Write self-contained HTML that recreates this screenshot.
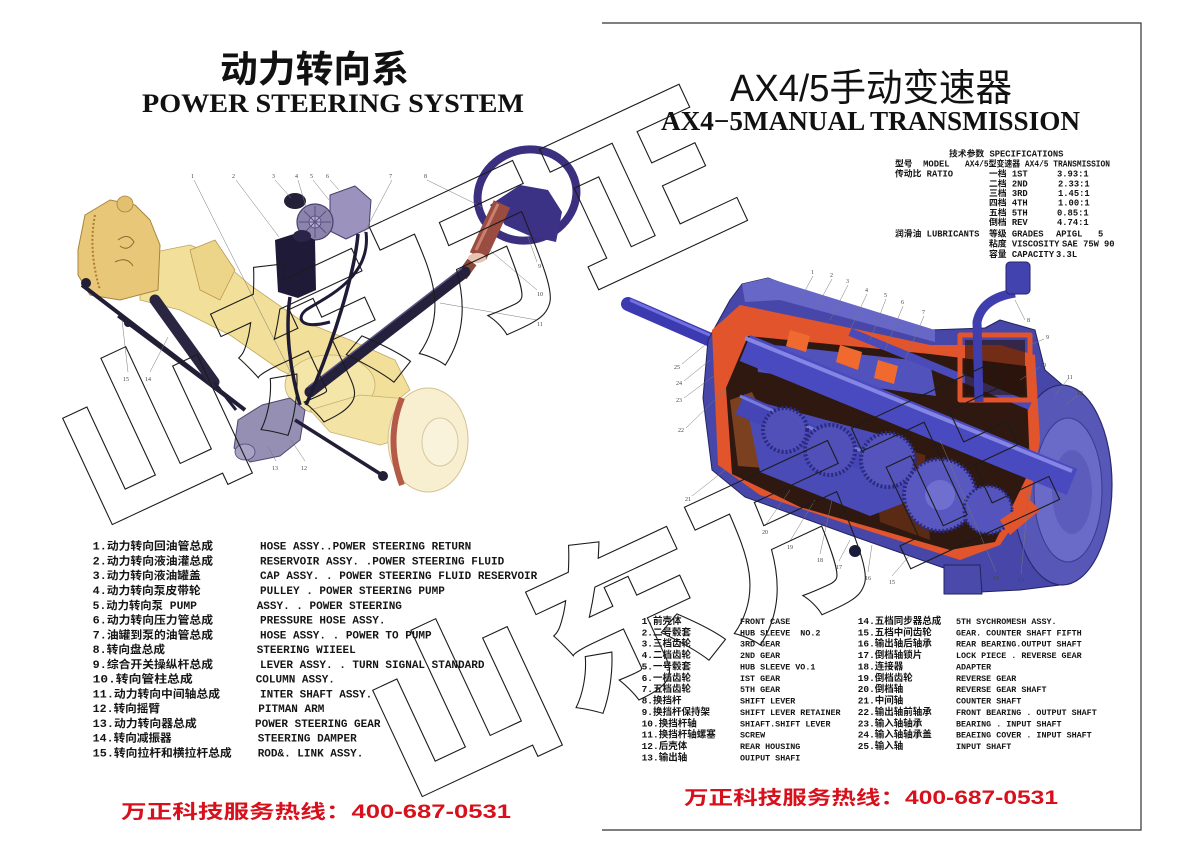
<!DOCTYPE html>
<html><head><meta charset="utf-8"><style>
html,body{margin:0;padding:0;background:#fff;width:1200px;height:856px;overflow:hidden}
svg text{white-space:pre}
.lg{font-family:"Liberation Mono","Noto Sans CJK SC",monospace;font-weight:bold;font-size:11px;fill:#151515}
.rc{font-family:"Liberation Mono","Noto Sans CJK SC",monospace;font-weight:bold;font-size:9.5px;fill:#151515}
.re{font-family:"Liberation Mono","Noto Sans CJK SC",monospace;font-weight:bold;font-size:8.4px;fill:#151515}
.sp{font-family:"Liberation Mono","Noto Sans CJK SC",monospace;font-weight:bold;font-size:8.8px;fill:#151515}
.nm{font-family:"Liberation Serif",serif;font-size:6px;fill:#444}
.wm{font-family:"Noto Sans CJK SC",sans-serif;font-weight:900;font-size:178px;fill:none;stroke:#1c1c1c;stroke-width:1.1}
.hl{font-family:"Liberation Sans","Noto Sans CJK SC",sans-serif;font-weight:bold;font-size:19px;fill:#d7101c}
</style></head><body>
<svg width="1200" height="856" viewBox="0 0 1200 856" xmlns="http://www.w3.org/2000/svg">
<rect width="1200" height="856" fill="#fff"/>
<!-- right panel border -->
<polyline points="602,23 1141,23 1141,830 602,830" fill="none" stroke="#333" stroke-width="1.2"/>

<!-- titles -->
<text x="220" y="82" font-family="'Noto Sans CJK SC',sans-serif" font-weight="bold" font-size="37" textLength="189" lengthAdjust="spacingAndGlyphs" fill="#111">动力转向系</text>
<text x="142" y="112" font-family="'Liberation Serif',serif" font-weight="bold" font-size="26" textLength="382" lengthAdjust="spacingAndGlyphs" fill="#111">POWER STEERING SYSTEM</text>
<text x="730" y="101" font-family="'Liberation Sans','Noto Sans CJK SC',sans-serif" font-size="38" textLength="282" lengthAdjust="spacingAndGlyphs" fill="#111">AX4/5手动变速器</text>
<text x="661" y="130" font-family="'Liberation Serif',serif" font-weight="bold" font-size="27" textLength="419" lengthAdjust="spacingAndGlyphs" fill="#111">AX4−5MANUAL TRANSMISSION</text>

<!-- ===== LEFT IMAGE: power steering ===== -->
<g stroke-linejoin="round">
<polygon points="140,255 190,245 215,255 250,285 300,320 350,340 395,360 410,390 385,410 330,395 280,370 230,335 180,310 140,300" fill="#f2e09a" stroke="#c2a660" stroke-width="0.8"/>
<ellipse cx="330" cy="385" rx="45" ry="30" fill="#f4e6a8" stroke="#c8b070" stroke-width="0.8"/>
<polygon points="310,410 360,395 420,400 430,430 380,445 330,432" fill="#f3e3a5" stroke="#c8b070" stroke-width="0.8"/>
<polygon points="190,250 215,240 235,270 220,300 200,290" fill="#ecd488" stroke="#b89a50" stroke-width="0.8"/>
<polygon points="78,250 85,215 110,200 135,205 150,220 160,245 158,290 120,300 90,295 78,275" fill="#e8c878" stroke="#a8843a" stroke-width="1"/>
<circle cx="125" cy="204" r="8" fill="#e2c070" stroke="#a8843a" stroke-width="0.8"/>
<path d="M95,215 Q88,250 100,290" fill="none" stroke="#b07a30" stroke-width="2" stroke-dasharray="2 2"/>
<path d="M118,240 q10,-8 16,2 q-6,10 -14,4 M115,262 q12,-6 18,4" fill="none" stroke="#8a6a30" stroke-width="1"/>
<ellipse cx="428" cy="440" rx="40" ry="52" fill="#f7efd0" stroke="#d4c290" stroke-width="1"/>
<path d="M402,398 Q385,440 402,485" fill="none" stroke="#b65a48" stroke-width="6"/>
<ellipse cx="440" cy="442" rx="18" ry="24" fill="#f9f3dc" stroke="#d8c8a0" stroke-width="1"/>
<ellipse cx="527" cy="195" rx="50" ry="45" transform="rotate(-20 527 195)" fill="none" stroke="#3b2f80" stroke-width="8"/>
<polygon points="490,205 520,185 548,190 562,212 556,242 530,236 505,225" fill="#3c3285"/>
<line x1="502" y1="204" x2="478" y2="256" stroke="#9a4c40" stroke-width="18"/>
<line x1="498" y1="204" x2="476" y2="250" stroke="#c98070" stroke-width="3"/>
<ellipse cx="477" cy="258" rx="9" ry="5" fill="#e8c4b4"/>
<line x1="472" y1="262" x2="462" y2="276" stroke="#8a4a3a" stroke-width="11"/>
<line x1="465" y1="272" x2="310" y2="392" stroke="#25203c" stroke-width="11" stroke-linecap="round"/>
<line x1="462" y1="268" x2="308" y2="387" stroke="#5a5580" stroke-width="1.5"/>
<polygon points="330,195 355,186 371,200 369,228 346,239 330,231" fill="#9b92bd" stroke="#4a4070" stroke-width="1"/>
<circle cx="315" cy="222" r="18" fill="#8d84ad" stroke="#4a4070" stroke-width="1.2"/>
<circle cx="315" cy="222" r="6" fill="#b4acd0" stroke="#4a4070" stroke-width="0.8"/>
<path d="M315,206 L315,238 M299,222 L331,222 M304,211 L326,233 M326,211 L304,233" stroke="#5a5080" stroke-width="1"/>
<ellipse cx="295" cy="201" rx="11" ry="8" fill="#25203a"/>
<polygon points="275,240 300,232 315,240 316,290 298,298 278,292" fill="#1f1a38"/>
<ellipse cx="302" cy="236" rx="9" ry="6" fill="#2a2448"/>
<path d="M290,297 C285,330 290,370 300,405" fill="none" stroke="#1f1a36" stroke-width="3.5"/>
<path d="M358,234 C355,270 335,340 306,405" fill="none" stroke="#1f1a36" stroke-width="3.5"/>
<path d="M366,232 C372,280 320,300 306,310 C296,318 300,330 330,322" fill="none" stroke="#1f1a36" stroke-width="3"/>
<polygon points="238,420 262,405 290,398 305,410 300,440 280,456 250,462 234,448" fill="#948fb3" stroke="#4c4870" stroke-width="1"/>
<ellipse cx="245" cy="452" rx="10" ry="8" fill="#a8a3c4" stroke="#4c4870" stroke-width="0.8"/>
<line x1="82" y1="285" x2="245" y2="410" stroke="#221e36" stroke-width="4"/>
<line x1="118" y1="316" x2="225" y2="396" stroke="#221e36" stroke-width="3"/>
<line x1="155" y1="300" x2="214" y2="382" stroke="#2a2540" stroke-width="11" stroke-linecap="round"/>
<line x1="214" y1="382" x2="236" y2="410" stroke="#221e36" stroke-width="3"/>
<line x1="295" y1="420" x2="382" y2="475" stroke="#221e36" stroke-width="3.5"/>
<circle cx="86" cy="283" r="5" fill="#221e36"/>
<circle cx="383" cy="476" r="5" fill="#221e36"/>
<circle cx="128" cy="323" r="4" fill="#221e36"/>
</g>
<g stroke="#777" stroke-width="0.5" fill="none">
<path d="M194,180 L291,373 M236,180 L279,237 M275,180 L291,198 M298,180 L306,207 M313,180 L329,200 M330,180 L339,190 M392,180 L364,233 M427,180 L482,207 M537,262 L528,237 M537,290 L486,247 M537,320 L440,303 M150,372 L168,337 M128,372 L122,320 M276,461 L268,447 M305,461 L291,440"/>
</g>
<g class="nm">
<text x="191" y="178">1</text><text x="232" y="178">2</text><text x="272" y="178">3</text><text x="295" y="178">4</text><text x="310" y="178">5</text><text x="326" y="178">6</text><text x="389" y="178">7</text><text x="424" y="178">8</text>
<text x="538" y="268">9</text><text x="537" y="296">10</text><text x="537" y="326">11</text><text x="301" y="470">12</text><text x="272" y="470">13</text><text x="145" y="381">14</text><text x="123" y="381">15</text>
</g>

<!-- ===== RIGHT IMAGE: transmission ===== -->
<g stroke-linejoin="round">
<line x1="628" y1="304" x2="752" y2="358" stroke="#3b3ab0" stroke-width="14" stroke-linecap="round"/>
<line x1="630" y1="300" x2="748" y2="352" stroke="#7070e0" stroke-width="3"/>
<polygon points="703,398 708,340 730,300 742,284 768,278 800,290 930,330 985,328 1000,320 1035,330 1045,370 1080,400 1105,445 1110,500 1095,555 1060,585 1020,590 980,592 944,590 944,568 850,535 745,497 712,470" fill="#4747aa" stroke="#23235e" stroke-width="1"/>
<ellipse cx="1062" cy="485" rx="50" ry="100" fill="#5757b8" stroke="#2a2a70" stroke-width="1.2"/>
<ellipse cx="1068" cy="490" rx="34" ry="72" fill="#6a6ac8" stroke="#3a3a90" stroke-width="1"/>
<ellipse cx="1072" cy="492" rx="20" ry="42" fill="#5c5cbc"/>
<polygon points="742,284 768,278 935,330 935,342 780,300 745,302" fill="#6767c8"/>
<polygon points="712,330 740,305 860,330 930,345 1000,345 1035,355 1040,440 1030,500 1000,545 960,560 850,525 760,495 718,465" fill="#e2542c"/>
<polygon points="726,388 748,336 930,354 1026,366 1030,470 995,542 950,550 800,507 732,474" fill="#2e1810"/>
<polygon points="730,400 752,392 790,470 738,466" fill="#7a4020"/>
<polygon points="872,440 925,455 930,540 880,522" fill="#5a2a14"/>
<polygon points="745,398 900,440 912,500 870,516 760,472" fill="#4b4bb8"/>
<polygon points="755,343 930,362 936,396 758,372" fill="#5252bd"/>
<line x1="745" y1="348" x2="1072" y2="482" stroke="#4a4ac0" stroke-width="28"/>
<line x1="745" y1="338" x2="1072" y2="471" stroke="#8585e4" stroke-width="4"/>
<line x1="740" y1="404" x2="895" y2="474" stroke="#4545b5" stroke-width="22"/>
<line x1="740" y1="396" x2="895" y2="466" stroke="#7a7ad8" stroke-width="3"/>
<line x1="850" y1="332" x2="1030" y2="406" stroke="#4a4ab8" stroke-width="8"/>
<circle cx="940" cy="495" r="36" fill="#5858c0" stroke="#2a2a80" stroke-width="4" stroke-dasharray="2 2"/>
<circle cx="940" cy="495" r="15" fill="#6f6fd0"/>
<circle cx="888" cy="460" r="27" fill="#5454bc" stroke="#2a2a80" stroke-width="4" stroke-dasharray="2 2"/>
<circle cx="830" cy="450" r="25" fill="#5050b8" stroke="#2a2a80" stroke-width="4" stroke-dasharray="2 2"/>
<circle cx="785" cy="430" r="22" fill="#5050b8" stroke="#2a2a80" stroke-width="4" stroke-dasharray="2 2"/>
<circle cx="988" cy="510" r="24" fill="#5454bc" stroke="#2a2a80" stroke-width="3" stroke-dasharray="2 2"/>
<polygon points="790,330 810,336 806,352 786,346" fill="#f06a30"/>
<polygon points="840,345 862,352 858,370 836,362" fill="#f06a30"/>
<polygon points="878,360 898,366 894,384 874,378" fill="#f06a30"/>
<polygon points="1000,520 1030,500 1040,510 1010,535" fill="#e2542c"/>
<rect x="960" y="335" width="70" height="65" fill="none" stroke="#e2542c" stroke-width="5"/>
<rect x="965" y="340" width="60" height="55" fill="#2a1208" opacity="0.6"/>
<path d="M1015,293 Q982,298 977,322 L979,402" fill="none" stroke="#3e3eae" stroke-width="9"/>
<rect x="1006" y="262" width="24" height="32" rx="4" fill="#4343b0" stroke="#25256e" stroke-width="1"/>
<polygon points="944,565 980,565 982,594 944,594" fill="#4a4aaa" stroke="#23235e" stroke-width="1"/>
<circle cx="855" cy="551" r="6" fill="#1a1a3a"/>
</g>
<g stroke="#777" stroke-width="0.5" fill="none">
<path d="M813,276 L800,300 M832,279 L815,310 M848,285 L830,320 M867,294 L850,330 M886,299 L870,340 M903,306 L885,350 M924,316 L905,360 M1025,320 L1015,300 M1044,339 L1030,345 M1040,367 L1020,380 M1068,379 L1055,395 M1078,395 L1065,405 M1021,574 L1030,480 M996,572 L940,440 M892,576 L910,555 M868,572 L872,545 M839,561 L850,540 M820,554 L832,500 M790,541 L815,500 M765,526 L790,490 M692,496 L725,470 M686,428 L725,390 M684,398 L715,375 M684,381 L710,360 M682,364 L705,345"/>
</g>
<g class="nm">
<text x="811" y="274">1</text><text x="830" y="277">2</text><text x="846" y="283">3</text><text x="865" y="292">4</text><text x="884" y="297">5</text><text x="901" y="304">6</text><text x="922" y="314">7</text><text x="1027" y="322">8</text><text x="1046" y="339">9</text><text x="1040" y="367">10</text><text x="1067" y="379">11</text><text x="1077" y="395">12</text>
<text x="1018" y="582">13</text><text x="993" y="580">14</text><text x="889" y="584">15</text><text x="865" y="580">16</text><text x="836" y="569">17</text><text x="817" y="562">18</text><text x="787" y="549">19</text><text x="762" y="534">20</text><text x="685" y="501">21</text><text x="678" y="432">22</text><text x="676" y="402">23</text><text x="676" y="385">24</text><text x="674" y="369">25</text>
</g>

<!-- ===== SPECIFICATIONS ===== -->
<g class="sp">
<text x="949" y="156.5">技术参数 SPECIFICATIONS</text>
<text x="895" y="166.5">型号  MODEL</text>
<text x="965" y="166.5" textLength="145" lengthAdjust="spacingAndGlyphs">AX4/5型变速器 AX4/5 TRANSMISSION</text>
<text x="895" y="176.5">传动比 RATIO</text>
<text x="989" y="176.5">一档 1ST</text><text x="1057" y="176.5">3.93:1</text>
<text x="989" y="186.3">二档 2ND</text><text x="1058" y="186.3">2.33:1</text>
<text x="989" y="195.8">三档 3RD</text><text x="1058" y="195.8">1.45:1</text>
<text x="989" y="205.6">四档 4TH</text><text x="1058" y="205.6">1.00:1</text>
<text x="989" y="215.3">五档 5TH</text><text x="1057" y="215.3">0.85:1</text>
<text x="989" y="225.2">倒档 REV</text><text x="1057" y="225.2">4.74:1</text>
<text x="895" y="236.3">润滑油 LUBRICANTS</text>
<text x="989" y="236.3">等级 GRADES</text><text x="1056" y="236.3">APIGL</text><text x="1098" y="236.3">5</text>
<text x="989" y="246.3">粘度 VISCOSITY</text><text x="1062" y="246.3">SAE 75W</text><text x="1104" y="246.3">90</text>
<text x="989" y="256.8">容量 CAPACITY</text><text x="1056" y="256.8">3.3L</text>
</g>

<!-- ===== LEFT LEGEND ===== -->
<g class="lg">
<text x="92.7" y="549.7" textLength="120.3" lengthAdjust="spacingAndGlyphs">1.动力转向回油管总成</text>
<text x="92.7" y="564.5" textLength="120.3" lengthAdjust="spacingAndGlyphs">2.动力转向液油灌总成</text>
<text x="92.7" y="579.2" textLength="108" lengthAdjust="spacingAndGlyphs">3.动力转向液油罐盖</text>
<text x="92.7" y="594" textLength="108" lengthAdjust="spacingAndGlyphs">4.动力转向泵皮带轮</text>
<text x="92.7" y="608.8" textLength="104.3" lengthAdjust="spacingAndGlyphs">5.动力转向泵 PUMP</text>
<text x="92.7" y="623.6" textLength="120.3" lengthAdjust="spacingAndGlyphs">6.动力转向压力管总成</text>
<text x="92.7" y="638.3" textLength="120.3" lengthAdjust="spacingAndGlyphs">7.油罐到泵的油管总成</text>
<text x="92.7" y="653.1" textLength="72.3" lengthAdjust="spacingAndGlyphs">8.转向盘总成</text>
<text x="92.7" y="667.9" textLength="120.3" lengthAdjust="spacingAndGlyphs">9.综合开关操纵杆总成</text>
<text x="92.7" y="682.6" textLength="100" lengthAdjust="spacingAndGlyphs">10.转向管柱总成</text>
<text x="92.7" y="697.4" textLength="127.3" lengthAdjust="spacingAndGlyphs">11.动力转向中间轴总成</text>
<text x="92.7" y="712.2" textLength="67.3" lengthAdjust="spacingAndGlyphs">12.转向摇臂</text>
<text x="92.7" y="726.9" textLength="104" lengthAdjust="spacingAndGlyphs">13.动力转向器总成</text>
<text x="92.7" y="741.7" textLength="79" lengthAdjust="spacingAndGlyphs">14.转向减振器</text>
<text x="92.7" y="756.5" textLength="139" lengthAdjust="spacingAndGlyphs">15.转向拉杆和横拉杆总成</text>

<text x="260" y="549.7">HOSE ASSY..POWER STEERING RETURN</text>
<text x="260" y="564.5">RESERVOIR ASSY. .POWER STEERING FLUID</text>
<text x="260" y="579.2">CAP ASSY. . POWER STEERING FLUID RESERVOIR</text>
<text x="260" y="594">PULLEY . POWER STEERING PUMP</text>
<text x="256.7" y="608.8">ASSY. . POWER STEERING</text>
<text x="260" y="623.6">PRESSURE HOSE ASSY.</text>
<text x="260" y="638.3">HOSE ASSY. . POWER TO PUMP</text>
<text x="256.7" y="653.1">STEERING WIIEEL</text>
<text x="260" y="667.9">LEVER ASSY. . TURN SIGNAL STANDARD</text>
<text x="255.7" y="682.6">COLUMN ASSY.</text>
<text x="260" y="697.4">INTER SHAFT ASSY.</text>
<text x="258.3" y="712.2">PITMAN ARM</text>
<text x="255" y="726.9">POWER STEERING GEAR</text>
<text x="257.7" y="741.7">STEERING DAMPER</text>
<text x="257.7" y="756.5">ROD&amp;. LINK ASSY.</text>
</g>

<!-- ===== RIGHT LEGEND ===== -->
<g class="rc">
<text x="641.6" y="624">1.前壳体</text>
<text x="641.6" y="635.4">2.二号毂套</text>
<text x="641.6" y="646.7">3.三档齿轮</text>
<text x="641.6" y="658.1">4.二档齿轮</text>
<text x="641.6" y="669.5">5.一号毂套</text>
<text x="641.6" y="680.9">6.一档齿轮</text>
<text x="641.6" y="692.2">7.五档齿轮</text>
<text x="641.6" y="703.6">8.换挡杆</text>
<text x="641.6" y="715">9.换挡杆保持架</text>
<text x="641.6" y="726.4">10.换挡杆轴</text>
<text x="641.6" y="737.7">11.换挡杆轴螺塞</text>
<text x="641.6" y="749.1">12.后壳体</text>
<text x="641.6" y="760.5">13.输出轴</text>
<text x="857.7" y="624">14.五档同步器总成</text>
<text x="857.7" y="635.4">15.五档中间齿轮</text>
<text x="857.7" y="646.7">16.输出轴后轴承</text>
<text x="857.7" y="658.1">17.倒档轴锁片</text>
<text x="857.7" y="669.5">18.连接器</text>
<text x="857.7" y="680.9">19.倒档齿轮</text>
<text x="857.7" y="692.2">20.倒档轴</text>
<text x="857.7" y="703.6">21.中间轴</text>
<text x="857.7" y="715">22.输出轴前轴承</text>
<text x="857.7" y="726.4">23.输入轴轴承</text>
<text x="857.7" y="737.7">24.输入轴轴承盖</text>
<text x="857.7" y="749.1">25.输入轴</text>
</g>
<g class="re">
<text x="740" y="624">FRONT CASE</text>
<text x="740" y="635.4">HUB SLEEVE  NO.2</text>
<text x="740" y="646.7">3RD GEAR</text>
<text x="740" y="658.1">2ND GEAR</text>
<text x="740" y="669.5">HUB SLEEVE VO.1</text>
<text x="740" y="680.9">IST GEAR</text>
<text x="740" y="692.2">5TH GEAR</text>
<text x="740" y="703.6">SHIFT LEVER</text>
<text x="740" y="715">SHIFT LEVER RETAINER</text>
<text x="740" y="726.4">SHIAFT.SHIFT LEVER</text>
<text x="740" y="737.7">SCREW</text>
<text x="740" y="749.1">REAR HOUSING</text>
<text x="740" y="760.5">OUIPUT SHAFI</text>
<text x="956" y="624">5TH SYCHROMESH ASSY.</text>
<text x="956" y="635.4">GEAR. COUNTER SHAFT FIFTH</text>
<text x="956" y="646.7">REAR BEARING.OUTPUT SHAFT</text>
<text x="956" y="658.1">LOCK PIECE . REVERSE GEAR</text>
<text x="956" y="669.5">ADAPTER</text>
<text x="956" y="680.9">REVERSE GEAR</text>
<text x="956" y="692.2">REVERSE GEAR SHAFT</text>
<text x="956" y="703.6">COUNTER SHAFT</text>
<text x="956" y="715">FRONT BEARING . OUTPUT SHAFT</text>
<text x="956" y="726.4">BEARING . INPUT SHAFT</text>
<text x="956" y="737.7">BEAEING COVER . INPUT SHAFT</text>
<text x="956" y="749.1">INPUT SHAFT</text>
</g>

<!-- hotlines -->
<text class="hl" x="121" y="818" textLength="390" lengthAdjust="spacingAndGlyphs">万正科技服务热线：400-687-0531</text>
<text class="hl" x="684" y="804" textLength="374" lengthAdjust="spacingAndGlyphs">万正科技服务热线：400-687-0531</text>

<!-- watermark -->
<g class="wm" text-anchor="middle" dominant-baseline="central">
<text transform="translate(145,420) rotate(-25)">山</text>
<text transform="translate(303,330) rotate(-25)">东</text>
<text transform="translate(468,252) rotate(-25)">万</text>
<text transform="translate(636,176) rotate(-25)">正</text>
<text transform="translate(455,692) rotate(-25)">山</text>
<text transform="translate(618,608) rotate(-25)">东</text>
<text transform="translate(783,532) rotate(-25)">万</text>
<text transform="translate(948,455) rotate(-25)">正</text>
</g>
</svg>
</body></html>
